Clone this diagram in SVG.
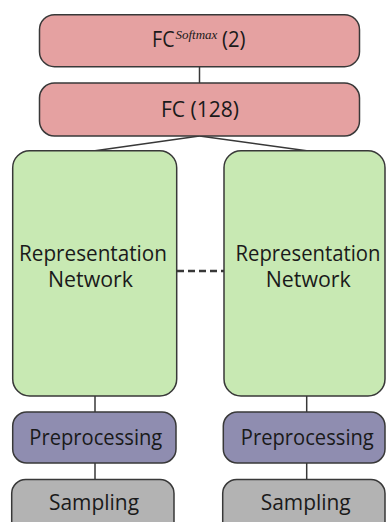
<svg xmlns="http://www.w3.org/2000/svg" width="386" height="522" viewBox="0 0 386 522">
  <style>
    .box { stroke: #383838; stroke-width: 1.5; }
    .fc { fill: #e5a1a1; }
    .rep { fill: #c8e9b3; }
    .pre { fill: #8f8db0; }
    .samp { fill: #b3b3b3; }
    .lbl { font-family: "Open Sans", "Liberation Sans", sans-serif; font-size: 21px; fill: #1a1a1a; text-anchor: middle; }
    .sup { font-family: "Liberation Serif", serif; font-style: italic; font-size: 13px; fill: #1a1a1a; }
    .link { stroke: #383838; stroke-width: 1.5; fill: none; }
    .dash { stroke: #383838; stroke-width: 2.5; stroke-dasharray: 7 4; fill: none; }
  </style>
  <rect width="386" height="522" fill="#ffffff"/>

  <g id="connectors">
    <line class="link" x1="199.5" y1="67" x2="199.5" y2="83"/>
    <line class="link" x1="199.5" y1="136" x2="95" y2="150.7"/>
    <line class="link" x1="199.5" y1="136" x2="306.7" y2="150.7"/>
    <line class="dash" x1="177" y1="271" x2="224" y2="271"/>
    <line class="link" x1="95" y1="396" x2="95" y2="412"/>
    <line class="link" x1="306.7" y1="396" x2="306.7" y2="412"/>
    <line class="link" x1="95" y1="463" x2="95" y2="479.5"/>
    <line class="link" x1="306.7" y1="463" x2="306.7" y2="479.5"/>
  </g>

  <g id="fc-softmax">
    <rect class="box fc" x="39.5" y="14.7" width="320" height="52" rx="15"/>
    <text class="lbl" x="152" y="47" style="text-anchor:start" textLength="22.5" lengthAdjust="spacingAndGlyphs">FC</text>
    <text class="sup" x="175.5" y="38.5">Softmax</text>
    <text class="lbl" x="222" y="47" style="text-anchor:start" textLength="23.5" lengthAdjust="spacingAndGlyphs">(2)</text>
  </g>

  <g id="fc-128">
    <rect class="box fc" x="39.5" y="83" width="320" height="53" rx="15"/>
    <text class="lbl" x="200" y="116.5" textLength="78" lengthAdjust="spacingAndGlyphs">FC (128)</text>
  </g>

  <g id="rep-left">
    <rect class="box rep" x="12.7" y="150.7" width="164" height="245.3" rx="17"/>
    <text class="lbl" x="93" y="261" textLength="148" lengthAdjust="spacingAndGlyphs">Representation</text>
    <text class="lbl" x="90.5" y="287" textLength="85" lengthAdjust="spacingAndGlyphs">Network</text>
  </g>

  <g id="rep-right">
    <rect class="box rep" x="224" y="150.7" width="161" height="245.3" rx="17"/>
    <text class="lbl" x="308" y="261" textLength="145" lengthAdjust="spacingAndGlyphs">Representation</text>
    <text class="lbl" x="308.3" y="287" textLength="85" lengthAdjust="spacingAndGlyphs">Network</text>
  </g>

  <g id="pre-left">
    <rect class="box pre" x="12.7" y="412" width="163.3" height="51" rx="14"/>
    <text class="lbl" x="95.8" y="444.5" textLength="133" lengthAdjust="spacingAndGlyphs">Preprocessing</text>
  </g>

  <g id="pre-right">
    <rect class="box pre" x="223.3" y="412" width="161.7" height="51" rx="14"/>
    <text class="lbl" x="307.3" y="444.5" textLength="133" lengthAdjust="spacingAndGlyphs">Preprocessing</text>
  </g>

  <g id="samp-left">
    <rect class="box samp" x="11.7" y="479.5" width="162.3" height="60" rx="14"/>
    <text class="lbl" x="94" y="510" textLength="90" lengthAdjust="spacingAndGlyphs">Sampling</text>
  </g>

  <g id="samp-right">
    <rect class="box samp" x="222.7" y="479.5" width="162.3" height="60" rx="14"/>
    <text class="lbl" x="305.7" y="510" textLength="90" lengthAdjust="spacingAndGlyphs">Sampling</text>
  </g>
</svg>
